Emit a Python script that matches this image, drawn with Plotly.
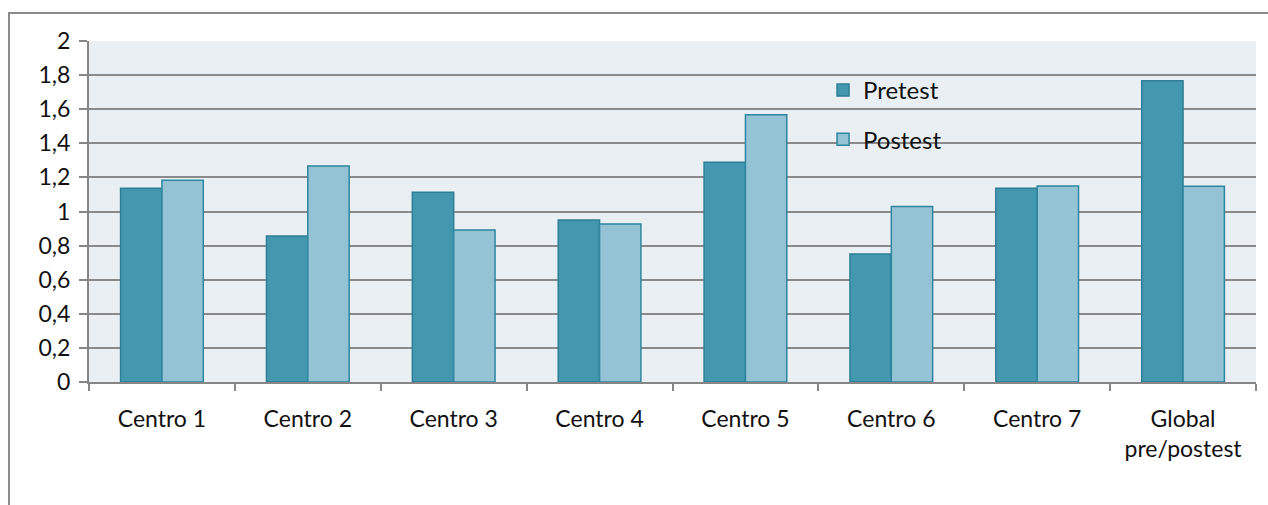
import plotly.graph_objects as go

categories = ["Centro 1", "Centro 2", "Centro 3", "Centro 4", "Centro 5",
              "Centro 6", "Centro 7", "Global<br>pre/postest"]
pretest = [1.136, 0.856, 1.113, 0.950, 1.289, 0.751, 1.136, 1.767]
postest = [1.183, 1.267, 0.891, 0.927, 1.568, 1.030, 1.150, 1.148]

FONT = "Lato"
fig = go.Figure()
fig.add_trace(go.Bar(name="Pretest", x=categories, y=pretest,
                     marker=dict(color="#4398AF", line=dict(color="#2E7F96", width=1.5)),
                     legendgroup="a"))
fig.add_trace(go.Bar(name="Postest", x=categories, y=postest,
                     marker=dict(color="#94C3D5", line=dict(color="#2E86A0", width=1.5)),
                     legendgroup="b"))

fig.update_layout(
    width=1268, height=505,
    margin=dict(l=89, r=12, t=41, b=123),
    paper_bgcolor="white", plot_bgcolor="#E9EFF3",
    barmode="group", bargap=0.433, bargroupgap=0,
    separators=",.",
    font=dict(family=FONT, size=23, color="#111111"),
    legend=dict(x=0.629, y=0.921, xanchor="left", yanchor="top",
                bgcolor="rgba(0,0,0,0)", font=dict(size=24),
                tracegroupgap=15, itemwidth=30),
    showlegend=True,
    xaxis=dict(showline=True, linecolor="#868686", linewidth=2,
               ticks="outside", tickson="boundaries", ticklen=7, tickcolor="#868686",
               tickwidth=2, showgrid=False, tickfont=dict(size=23),
               ticklabelstandoff=15),
    yaxis=dict(range=[0, 2], dtick=0.2, tickformat=".1~f",
               showline=True, linecolor="#868686", linewidth=2,
               ticks="outside", ticklen=8, tickcolor="#868686", tickwidth=2,
               showgrid=True, gridcolor="#8A8A8A", gridwidth=2,
               zeroline=False, tickfont=dict(size=23), ticklabelstandoff=4),
)
# outer chart border (extends beyond visible area)
fig.add_shape(type="rect", xref="paper", yref="paper",
              x0=(9 - 89) / 1167, x1=1.2, y0=-1, y1=(382 - 13) / 341,
              line=dict(color="#8C8C8C", width=2), fillcolor="rgba(0,0,0,0)", layer="below")
fig.write_html("out.html")
